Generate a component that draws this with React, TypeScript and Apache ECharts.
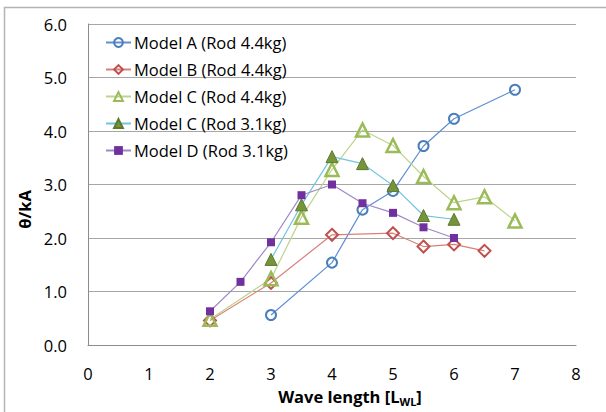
import React, { useEffect, useRef } from "react";
import * as echarts from "echarts";

const xTicks = [0, 1, 2, 3, 4, 5, 6, 7, 8];
const yTicks = [0, 1, 2, 3, 4, 5, 6];

const seriesNames = [
  "Model A (Rod 4.4kg)",
  "Model B (Rod 4.4kg)",
  "Model C (Rod 4.4kg)",
  "Model C (Rod 3.1kg)",
  "Model D (Rod 3.1kg)",
];

const aX = [3, 4, 4.5, 5, 5.5, 6, 7];
const aY = [0.56, 1.54, 2.53, 2.88, 3.72, 4.23, 4.77];

const bX = [2, 3, 4, 5, 5.5, 6, 6.5];
const bY = [0.46, 1.16, 2.06, 2.09, 1.84, 1.88, 1.76];

const c44X = [2, 3, 3.5, 4, 4.5, 5, 5.5, 6, 6.5, 7];
const c44Y = [0.48, 1.24, 2.39, 3.28, 4.02, 3.73, 3.15, 2.66, 2.77, 2.32];

const c31X = [3, 3.5, 4, 4.5, 5, 5.5, 6];
const c31Y = [1.6, 2.62, 3.52, 3.39, 2.98, 2.42, 2.35];

const dX = [2, 2.5, 3, 3.5, 4, 4.5, 5, 5.5, 6];
const dY = [0.63, 1.18, 1.92, 2.8, 3.0, 2.65, 2.47, 2.2, 2.0];

const pairs = (xs: number[], ys: number[]) => xs.map((x, i) => [x, ys[i]]);

const FONT = "Open Sans";
const FS = 16.5;

export default function App() {
  const ref = useRef<HTMLDivElement>(null);
  useEffect(() => {
    if (!ref.current) return;
    const chart = echarts.init(ref.current, null, { renderer: "svg" });
    const mk = (
      name: string,
      data: number[][],
      symbol: string,
      symbolSize: number,
      lineColor: string,
      markerFill: string,
      markerBorder: string,
      borderWidth: number
    ) => ({
      name,
      type: "line",
      data,
      symbol,
      symbolSize,
      showAllSymbol: true,
      lineStyle: { color: lineColor, width: 1.2 },
      itemStyle: { color: markerFill, borderColor: markerBorder, borderWidth },
      emphasis: { disabled: true },
    });
    chart.setOption({
      animation: false,
      backgroundColor: "#ffffff",
      textStyle: { fontFamily: FONT },
      graphic: [
        {
          type: "rect",
          shape: { x: 4.5, y: 7.5, width: 800, height: 600 },
          style: { fill: "none", stroke: "#b4b4b4", lineWidth: 1.5 },
          silent: true,
        },
      ],
      grid: { left: 88, right: 30, top: 24, bottom: 62 },
      legend: {
        orient: "vertical",
        left: 100,
        top: 29,
        itemWidth: 25,
        itemHeight: 11,
        itemGap: 10,
        textStyle: { fontFamily: FONT, fontSize: FS, color: "#000", padding: [0, 0, 0, -2] },
        data: seriesNames,
      },
      xAxis: {
        type: "value",
        min: xTicks[0],
        max: xTicks[xTicks.length - 1],
        interval: 1,
        axisLine: { show: true, onZero: false, lineStyle: { color: "#8c8c8c" } },
        axisTick: { show: false },
        splitLine: { show: false },
        axisLabel: { fontFamily: FONT, fontSize: FS, color: "#000", margin: 20 },
        name: "Wave length [L{sub|WL}]",
        nameLocation: "middle",
        nameGap: 41,
        nameTextStyle: {
          fontFamily: FONT,
          fontSize: FS,
          fontWeight: "bold",
          color: "#000",
          padding: [0, 0, 0, 36],
          rich: {
            sub: {
              fontFamily: FONT,
              fontSize: 11,
              fontWeight: "bold",
              color: "#000",
              padding: [10, 0, 0, 0],
            },
          },
        },
      },
      yAxis: {
        type: "value",
        min: yTicks[0],
        max: yTicks[yTicks.length - 1],
        interval: 1,
        axisLine: { show: true, lineStyle: { color: "#8c8c8c" } },
        axisTick: { show: false },
        splitLine: { show: true, lineStyle: { color: "#a6a6a6", width: 1 } },
        axisLabel: {
          fontFamily: FONT,
          fontSize: FS,
          color: "#000",
          margin: 21,
          formatter: (v: number) => v.toFixed(1),
        },
        name: "θ/kA",
        nameLocation: "middle",
        nameGap: 54,
        nameRotate: 90,
        nameTextStyle: {
          fontFamily: FONT,
          fontSize: FS,
          fontWeight: "bold",
          color: "#000",
          padding: [0, 50, 0, 0],
        },
      },
      series: [
        mk(seriesNames[0], pairs(aX, aY), "circle", 10, "#5e8fd2", "rgba(0,0,0,0)", "#4a7ebb", 2),
        mk(seriesNames[1], pairs(bX, bY), "diamond", 12, "#d9807d", "rgba(0,0,0,0)", "#c0504d", 2),
        mk(seriesNames[2], pairs(c44X, c44Y), "triangle", 13, "#bcd48c", "rgba(0,0,0,0)", "#9bbb59", 2.5),
        mk(seriesNames[3], pairs(c31X, c31Y), "triangle", 12, "#6fc6dc", "#77933c", "#5c7a2e", 1),
        mk(seriesNames[4], pairs(dX, dY), "rect", 8, "#9f88c6", "#7030a0", "#7030a0", 0),
      ],
    });
    return () => chart.dispose();
  }, []);
  return (
    <div
      ref={ref}
      style={{ position: "fixed", left: 0, top: 0, width: 606, height: 412 }}
    />
  );
}
